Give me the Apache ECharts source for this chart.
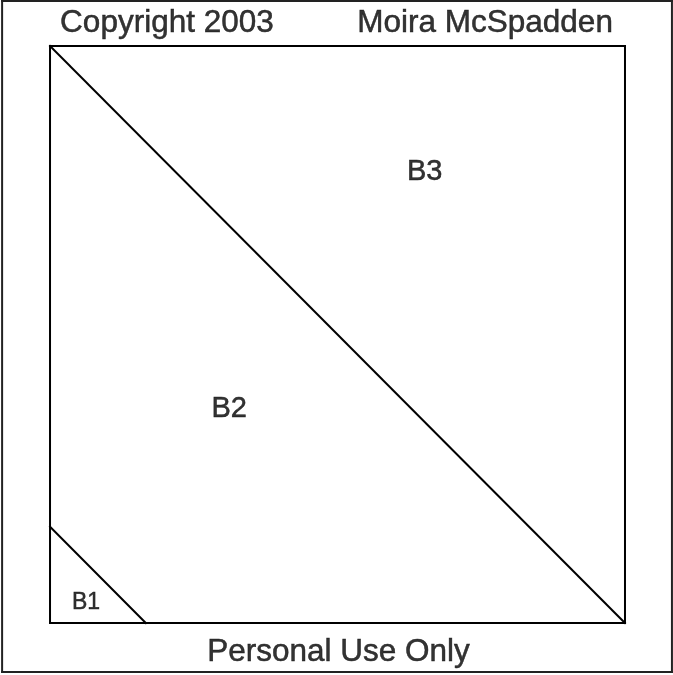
<!DOCTYPE html>
<html>
<head>
<meta charset="utf-8">
<script src="https://cdn.jsdelivr.net/npm/echarts@6/dist/echarts.min.js"></script>
<style>html,body{margin:0;padding:0;background:#fff;}#c{width:673px;height:675px;}</style>
</head>
<body>
<div id="c"></div>
<script>
// Block is 6 units square; frame sits half a unit outside
const frameSegments = [[-0.5,-0.51,6.49,-0.51],[6.49,-0.51,6.49,6.468],[6.49,6.468,-0.5,6.468],[-0.5,6.468,-0.5,-0.51]];
const blockSegments = [[0,0,6,0],[6,0,6,6],[6,6,0,6],[0,6,0,0]];
const seamSegments = [[0,6,6,0],[0,1,1,0]];
const patchNames = ['B1','B2','B3'];
const patchX = [0.376, 1.87, 3.91];
const patchY = [0.21, 2.22, 4.69];
const captionTexts = ['Copyright 2003','Moira McSpadden','Personal Use Only'];
const captionX = [1.22, 4.54, 3.01];
const captionY = [6.24, 6.24, -0.31];

const seg = (color, width) => ({
  type: 'custom',
  renderItem: function (params, api) {
    const p1 = api.coord([api.value(0), api.value(1)]);
    const p2 = api.coord([api.value(2), api.value(3)]);
    return {type:'line', shape:{x1:p1[0],y1:p1[1],x2:p2[0],y2:p2[1]}, style:{stroke:color, lineWidth:width, lineCap:'square'}};
  },
  silent: true,
  animation: false
});

const chart = echarts.init(document.getElementById('c'));
const baseLabel = {show:true, position:'inside', formatter:'{b}', color:'#000', textBorderColor:'#000', textBorderWidth:0.5, fontFamily:'Liberation Sans, Arial, sans-serif'};
const patchData = patchNames.map((n,i)=>({name:n, value:[patchX[i], patchY[i]], label:Object.assign({}, baseLabel, {fontSize: n==='B1'?23:29})}));
const captionData = captionTexts.map((n,i)=>({name:n, value:[captionX[i], captionY[i]], label:Object.assign({}, baseLabel, {fontSize:31.5})}));
chart.setOption({
  backgroundColor:'#fff',
  animation:false,
  grid:{left:0,right:0,top:0,bottom:0},
  xAxis:{type:'value', min:-0.522, max:6.501, show:false},
  yAxis:{type:'value', min:-0.541, max:6.478, show:false},
  series:[
    Object.assign(seg('#222',2), {data: frameSegments}),
    Object.assign(seg('#000',2), {data: blockSegments}),
    Object.assign(seg('#000',2), {data: seamSegments}),
    {type:'scatter', symbolSize:0, data: patchData, label: baseLabel, silent:true},
    {type:'scatter', symbolSize:0, data: captionData, label: baseLabel, silent:true}
  ]
});
</script>
</body>
</html>
